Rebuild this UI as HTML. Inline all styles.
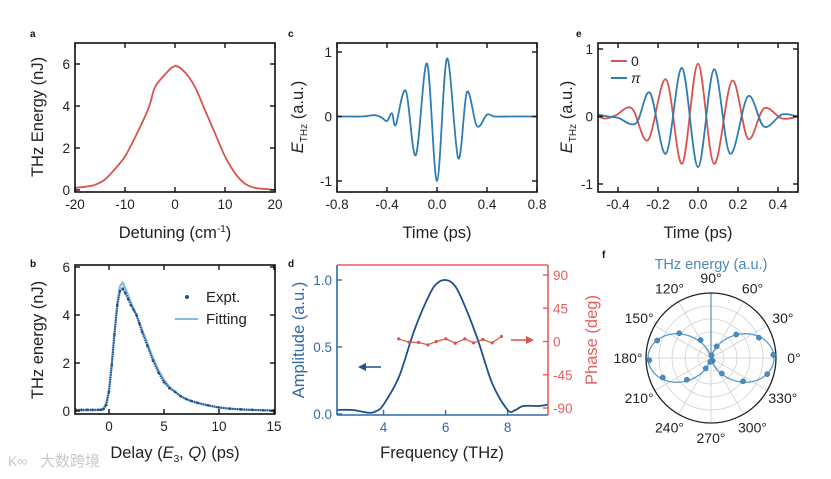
<!DOCTYPE html>
<html><head><meta charset="utf-8"><style>
body{margin:0;background:#fff;}
svg{display:block;font-family:"Liberation Sans",Arial,sans-serif;}
</style></head><body>
<svg id="fig" width="831" height="479" viewBox="0 0 831 479" xmlns="http://www.w3.org/2000/svg"></svg>
<script>
// ---- data ----
const aDetuning=[-20,-18,-16,-14,-12,-10,-8,-6,-5,-4,-2,0,2,4,6,8,10,12,14,16,18,20];
const aEnergy=[0.1,0.15,0.25,0.5,1.0,1.6,2.5,3.5,4.1,4.9,5.5,5.9,5.6,4.9,3.8,2.7,1.6,0.8,0.3,0.1,0.05,0.0];
const bDelay=[-3,-2.5,-2,-1.5,-1,-0.75,-0.5,-0.25,0,0.25,0.5,0.75,1,1.25,1.5,1.75,2,2.25,2.5,2.75,3,3.5,4,4.5,5,5.5,6,6.5,7,7.5,8,9,10,11,12,13,14,15];
const bExpt=[0.05,0.05,0.05,0.05,0.05,0.05,0.08,0.25,0.8,1.9,3.2,4.4,5.0,5.1,4.9,4.65,4.4,4.2,4.0,3.65,3.3,2.7,2.1,1.6,1.2,0.95,0.8,0.62,0.5,0.42,0.35,0.24,0.15,0.1,0.07,0.05,0.03,0.02];
const bFit=[0.03,0.03,0.03,0.03,0.04,0.05,0.1,0.35,0.9,2.0,3.3,4.5,5.2,5.35,5.1,4.8,4.5,4.25,4.0,3.7,3.4,2.8,2.2,1.7,1.3,1.0,0.8,0.63,0.5,0.4,0.33,0.22,0.14,0.09,0.06,0.04,0.03,0.02];
const cTime=[-0.8,-0.6,-0.5,-0.44,-0.40,-0.36,-0.33,-0.25,-0.17,-0.08,0,0.08,0.17,0.24,0.32,0.40,0.46,0.6,0.8];
const cField=[0,0,0.02,-0.02,-0.07,0.05,-0.13,0.4,-0.6,0.82,-1.0,0.9,-0.65,0.38,-0.15,0.03,0,0,0];
const eTime0=[-0.5,-0.46,-0.41,-0.33,-0.25,-0.16,-0.08,0,0.08,0.17,0.25,0.33,0.42,0.5];
const eField0=[0,-0.03,0.02,0.12,-0.35,0.55,-0.7,0.78,-0.7,0.53,-0.33,0.12,-0.03,0];
const eTimePi=[-0.5,-0.45,-0.4,-0.31,-0.24,-0.16,-0.08,0,0.08,0.16,0.25,0.33,0.42,0.5];
const eFieldPi=[0.03,0,-0.02,-0.1,0.35,-0.55,0.72,-0.75,0.7,-0.55,0.3,-0.15,0.03,0];
const dFreq=[2.5,3,3.5,3.75,4,4.5,5,5.5,5.75,6,6.25,6.5,7,7.5,8,8.25,8.5,9,9.3];
const dAmp=[0.03,0.03,0.01,0.02,0.07,0.28,0.63,0.9,0.98,1.0,0.97,0.87,0.58,0.23,0.03,0.03,0.06,0.06,0.07];
const dPhaseFreq=[4.49,4.82,5.13,5.43,5.70,6.01,6.31,6.62,6.90,7.2,7.5,7.8];
const dPhase=[3.6,-0.9,-1.4,-4.5,0,3.6,-2.3,3.6,-1.8,2.7,-1.8,6.8];
const fAngle=[3,23,43,64,120,142,162,182,202,222,243,-16,-36,-55,300,80,260];
const fRadius=[0.96,0.8,0.53,0.2,0.32,0.62,0.87,0.95,0.8,0.5,0.18,0.9,0.61,0.29,0.05,0.04,0.06];
const fFitParams=[0.97,0]; // amplitude, angle offset (deg) of cos^2 fit

// ---- helpers ----
const NS="http://www.w3.org/2000/svg";
const svg=document.getElementById('fig');
function mk(tag,attrs,parent){const e=document.createElementNS(NS,tag);for(const k in attrs)e.setAttribute(k,attrs[k]);(parent||svg).appendChild(e);return e;}
function lin(d0,d1,r0,r1){return v=>r0+(v-d0)*(r1-r0)/(d1-d0);}
function poly(xs,ys,sx,sy){return xs.map((x,i)=>(i?'L':'M')+sx(x).toFixed(1)+','+sy(ys[i]).toFixed(1)).join('');}
function smooth(xs,ys,sx,sy){
  const p=xs.map((x,i)=>[sx(x),sy(ys[i])]);let d='M'+p[0][0]+','+p[0][1];
  for(let i=0;i<p.length-1;i++){const p0=p[i-1]||p[i],p1=p[i],p2=p[i+1],p3=p[i+2]||p2;
    d+='C'+(p1[0]+(p2[0]-p0[0])/6).toFixed(1)+','+(p1[1]+(p2[1]-p0[1])/6).toFixed(1)+' '+(p2[0]-(p3[0]-p1[0])/6).toFixed(1)+','+(p2[1]-(p3[1]-p1[1])/6).toFixed(1)+' '+p2[0].toFixed(1)+','+p2[1].toFixed(1);}
  return d;}
function txt(s,x,y,o,parent){const t=mk('text',Object.assign({x:x,y:y,'font-size':13.5,'text-anchor':'middle',fill:'#222'},o||{}),parent);t.textContent=s;return t;}
function frame(g,x0,y0,x1,y1,col){mk('rect',{x:x0,y:y0,width:x1-x0,height:y1-y0,fill:'none',stroke:col||'#111','stroke-width':1.6},g);}
function xticks(g,vals,labels,sx,y0,y1,col){vals.forEach((v,i)=>{const x=sx(v);
  mk('line',{x1:x,x2:x,y1:y1,y2:y1-5,stroke:col||'#111','stroke-width':1.4},g);
  mk('line',{x1:x,x2:x,y1:y0,y2:y0+5,stroke:col||'#111','stroke-width':1.4},g);
  const t=txt(labels[i],x,y1+17,{fill:col||'#222'},g);});}
function yticks(g,vals,labels,sy,x0,x1,col,both){vals.forEach((v,i)=>{const y=sy(v);
  mk('line',{x1:x0,x2:x0+5,y1:y,y2:y,stroke:col||'#111','stroke-width':1.4},g);
  if(both!==false)mk('line',{x1:x1,x2:x1-5,y1:y,y2:y,stroke:col||'#111','stroke-width':1.4},g);
  const t=txt(labels[i],x0-5,y+5,{'text-anchor':'end',fill:col||'#222'},g);});}
function panel(name){const g=mk('g',{});return g;}
function plabel(s,x,y){const t=txt(s,x,y,{'font-size':10,'font-weight':'bold','text-anchor':'start',fill:'#111'});}
function ytitle(g,s,x,y,col,rot){const t=txt('',x,y,{'font-size':16.5,fill:col||'#222',transform:'rotate('+(rot||-90) +' '+x+' '+y+')'},g);t.innerHTML=s;return t;}
function xtitle(g,s,x,y){const t=txt('',x,y,{'font-size':16.5},g);t.innerHTML=s;}

const RED='#d9534f',BLUE='#2f7db3',DBLUE='#1f4f8e',LBLUE='#86bbdc';

// ---- panel a ----
{const g=panel('panel-a-detuning');const sx=lin(-20,20,75,275),sy=lin(0,6,190,64);
 const l=mk('path',{d:smooth(aDetuning,aEnergy,sx,sy),fill:'none',stroke:RED,'stroke-width':1.8},g);
 
 frame(g,75,43,275,192);xticks(g,[-20,-10,0,10,20],['-20','-10','0','10','20'],sx,43,192);
 yticks(g,[0,2,4,6],['0','2','4','6'],sy,75,275);
 ytitle(g,'THz Energy (nJ)',43,117);xtitle(g,'Detuning (cm<tspan font-size="10" dy="-6">-1</tspan><tspan dy="6">)</tspan>',175,238);
 plabel('a',30,37);}

// ---- panel b ----
{const g=panel('panel-b-delay');const sx=lin(-3,15,76,274),sy=lin(0,6,411,267);
 const f=mk('path',{d:poly(bDelay,bFit,sx,sy),fill:'none',stroke:LBLUE,'stroke-width':2.2},g);
 
 const e=mk('path',{d:poly(bDelay,bExpt,sx,sy),fill:'none',stroke:DBLUE,'stroke-width':2,'stroke-dasharray':'1.5 0.8'},g);
 
 bDelay.forEach((d,i)=>{const c=mk('circle',{cx:sx(d),cy:sy(bExpt[i]),r:1.3,fill:DBLUE},g);
  });
 frame(g,75,265,275,414);xticks(g,[0,5,10,15],['0','5','10','15'],sx,265,414);
 yticks(g,[0,2,4,6],['0','2','4','6'],sy,75,275);
 ytitle(g,'THz energy (nJ)',43,340);xtitle(g,'Delay (<tspan font-style="italic">E</tspan><tspan font-size="10" dy="4">3</tspan><tspan dy="-4">, </tspan><tspan font-style="italic">Q</tspan>) (ps)',175,458);
 const lg=mk('g',{},g);
 mk('circle',{cx:187,cy:297,r:2,fill:DBLUE},lg);txt('Expt.',206,302,{'font-size':15,'text-anchor':'start'},lg);
 mk('line',{x1:175,x2:198,y1:319,y2:319,stroke:LBLUE,'stroke-width':2},lg);txt('Fitting',206,324,{'font-size':15,'text-anchor':'start'},lg);
 plabel('b',30,267);}

// ---- panel c ----
{const g=panel('panel-c-waveform');const sx=lin(-0.8,0.8,337,537),sy=lin(-1,1,181,52);
 const l=mk('path',{d:smooth(cTime,cField,sx,sy),fill:'none',stroke:BLUE,'stroke-width':1.8},g);
 
 frame(g,337,43,537,192);xticks(g,[-0.8,-0.4,0,0.4,0.8],['-0.8','-0.4','0.0','0.4','0.8'],sx,43,192);
 yticks(g,[-1,0,1],['-1','0','1'],sy,337,537);
 ytitle(g,'<tspan font-style="italic">E</tspan><tspan font-size="10" dy="4">THz</tspan><tspan dy="-4"> (a.u.)</tspan>',303,117);
 xtitle(g,'Time (ps)',437,238);plabel('c',288,37);}

// ---- panel e ----
{const g=panel('panel-e-waveforms');const sx=lin(-0.5,0.5,598,798),sy=lin(-1,1,184,49);
 const r=mk('path',{d:smooth(eTime0,eField0,sx,sy),fill:'none',stroke:RED,'stroke-width':1.8},g);
 
 const b=mk('path',{d:smooth(eTimePi,eFieldPi,sx,sy),fill:'none',stroke:BLUE,'stroke-width':1.8},g);
 
 frame(g,598,43,798,192);xticks(g,[-0.4,-0.2,0,0.2,0.4],['-0.4','-0.2','0.0','0.2','0.4'],sx,43,192);
 yticks(g,[-1,0,1],['-1','0','1'],sy,598,798);
 ytitle(g,'<tspan font-style="italic">E</tspan><tspan font-size="10" dy="4">THz</tspan><tspan dy="-4"> (a.u.)</tspan>',572,117);
 xtitle(g,'Time (ps)',698,238);plabel('e',576,37);
 const lg=mk('g',{},g);
 mk('line',{x1:611,x2:627,y1:61,y2:61,stroke:RED,'stroke-width':2},lg);txt('0',631,66,{'font-size':14,'text-anchor':'start'},lg);
 mk('line',{x1:611,x2:627,y1:78,y2:78,stroke:BLUE,'stroke-width':2},lg);txt('π',631,83,{'font-size':14,'font-style':'italic','text-anchor':'start'},lg);}

// ---- panel d ----
{const g=panel('panel-d-spectrum');const sx=lin(2.5,9.3,337,548),sy=lin(0,1,414,280),sp=lin(-90,90,408,275);
 const a=mk('path',{d:smooth(dFreq,dAmp,sx,sy),fill:'none',stroke:DBLUE,'stroke-width':1.8},g);
 
 const p=mk('path',{d:poly(dPhaseFreq,dPhase,sx,sp),fill:'none',stroke:RED,'stroke-width':1.2},g);
 
 dPhaseFreq.forEach((f,i)=>{const c=mk('circle',{cx:sx(f),cy:sp(dPhase[i]),r:1.6,fill:RED},g);
  });
 mk('line',{x1:337,x2:337,y1:265,y2:415,stroke:'#2f6aa5','stroke-width':1.6},g);
 mk('line',{x1:337,x2:548,y1:415,y2:415,stroke:'#2f6aa5','stroke-width':1.6},g);
 mk('line',{x1:548,x2:548,y1:265,y2:415,stroke:'#e06060','stroke-width':1.6},g);
 mk('line',{x1:337,x2:548,y1:265,y2:265,stroke:'#e06060','stroke-width':1.6},g);
 [4,6,8].forEach(v=>{mk('line',{x1:sx(v),x2:sx(v),y1:415,y2:410,stroke:'#2f6aa5','stroke-width':1.4},g);
  const t=txt(String(v),sx(v),432,{fill:'#2f6aa5'},g);});
 [0,0.5,1].forEach((v,i)=>{mk('line',{x1:337,x2:342,y1:sy(v),y2:sy(v),stroke:'#2f6aa5','stroke-width':1.4},g);
  const t=txt(['0.0','0.5','1.0'][i],332,sy(v)+5,{'text-anchor':'end',fill:'#2f6aa5'},g);});
 [-90,-45,0,45,90].forEach(v=>{mk('line',{x1:548,x2:543,y1:sp(v),y2:sp(v),stroke:'#e06060','stroke-width':1.4},g);
  const t=txt(String(v),553,sp(v)+5,{'text-anchor':'start',fill:'#e06060'},g);});
 ytitle(g,'Amplitude (a.u.)',304,340,'#2f6aa5');ytitle(g,'Phase (deg)',597,340,'#e06060',-90);
 xtitle(g,'Frequency (THz)',442,458);
 const ab=mk('g',{},g);
 mk('line',{x1:381,x2:364,y1:367,y2:367,stroke:DBLUE,'stroke-width':1.6},ab);mk('path',{d:'M358,367 L366,363 L366,371Z',fill:DBLUE},ab);
 const ar=mk('g',{},g);
 mk('line',{x1:511,x2:528,y1:340,y2:340,stroke:RED,'stroke-width':1.6},ar);mk('path',{d:'M534,340 L526,336 L526,344Z',fill:RED},ar);
 plabel('d',288,267);}

// ---- panel f ----
{const g=panel('panel-f-polar');const cx=711,cy=358,R=65;const sr=lin(0,1,0,R);
 [0.2,0.4,0.6,0.8].forEach(r=>mk('circle',{cx:cx,cy:cy,r:sr(r),fill:'none',stroke:'#d0d0d0','stroke-width':0.8},g));
 for(let a=0;a<360;a+=30){const t=a*Math.PI/180;mk('line',{x1:cx,y1:cy,x2:cx+R*Math.cos(t),y2:cy-R*Math.sin(t),stroke:'#d0d0d0','stroke-width':0.8},g);
  const lb=txt(a+'°',cx+(R+18)*Math.cos(t),cy-(R+15)*Math.sin(t)+5,{'font-size':14},g);}
 mk('line',{x1:cx,x2:cx,y1:cy,y2:cy-R,stroke:BLUE,'stroke-width':1},g);
 mk('circle',{cx:cx,cy:cy,r:R,fill:'none',stroke:'#222','stroke-width':1.3},g);
 let d='';for(let a=0;a<=360;a+=3){const t=a*Math.PI/180,r=sr(fFitParams[0]*Math.pow(Math.cos(t-fFitParams[1]*Math.PI/180),2));
  d+=(a?'L':'M')+(cx+r*Math.cos(t)).toFixed(1)+','+(cy-r*Math.sin(t)).toFixed(1);}
 const fl=mk('path',{d:d,fill:'none',stroke:'#5b9cc9','stroke-width':1.3},g);
 fAngle.forEach((a,i)=>{const t=a*Math.PI/180,r=sr(fRadius[i]);const c=mk('circle',{cx:cx+r*Math.cos(t),cy:cy-r*Math.sin(t),r:2.6,fill:'#4a8cc0',stroke:'#2e6e9e','stroke-width':0.5},g);
  });
 const tt=txt('THz energy (a.u.)',cx,269,{'font-size':14.5,fill:'#4a8ab8'},g);
 plabel('f',602,258);}

// watermark
{const w=txt('大数跨境',40,466,{'font-size':15,fill:'#c8c8c8','text-anchor':'start'});w.setAttribute('font-family','"Liberation Sans","Noto Sans CJK SC",sans-serif');
 
 const w2=txt('K∞',8,466,{'font-size':14,fill:'#c8c8c8','text-anchor':'start'});}
</script>
</body></html>
